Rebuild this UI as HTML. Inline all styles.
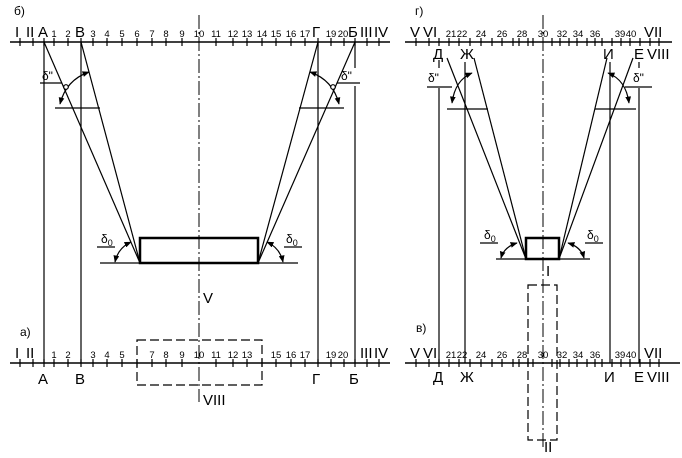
<!DOCTYPE html>
<html><head><meta charset="utf-8"><style>
html,body{margin:0;padding:0;background:#fff}
svg{display:block}
text{font-family:"Liberation Sans","DejaVu Sans",sans-serif;fill:#000}
.b{font-size:15px}.s{font-size:9.5px}.m{font-size:12px}
</style></head><body>
<svg width="682" height="458" viewBox="0 0 682 458" xmlns="http://www.w3.org/2000/svg">
<defs>
<marker id="ar" viewBox="0 0 10 10" refX="9" refY="5" markerWidth="6" markerHeight="6" orient="auto-start-reverse"><path d="M0,1 L10,5 L0,9 z" fill="#000"/></marker>
</defs>
<g stroke="#000" stroke-width="1.2" fill="none">
<line x1="10" y1="42" x2="390" y2="42" stroke-width="1.5"/>
<line x1="10" y1="363" x2="390" y2="363" stroke-width="1.5"/>
<line x1="405" y1="42" x2="672" y2="42" stroke-width="1.5"/>
<line x1="405" y1="363" x2="680" y2="363" stroke-width="1.5"/>
</g>
<g stroke="#000" stroke-width="1.2">
<path d="M20 38v8M33 38v8M44 38v8M54 38v8M68 38v8M81 38v8M93 38v8M107 38v8M122 38v8M137 38v8M152 38v8M166 38v8M182 38v8M216 38v8M233 38v8M247 38v8M262 38v8M276 38v8M291 38v8M305 38v8M318 38v8M331 38v8M344 38v8M355 38v8M367 38v8M379 38v8"/>
<path d="M20 359v8M33 359v8M44 359v8M54 359v8M68 359v8M81 359v8M93 359v8M107 359v8M122 359v8M137 359v8M152 359v8M166 359v8M182 359v8M216 359v8M233 359v8M247 359v8M262 359v8M276 359v8M291 359v8M305 359v8M318 359v8M331 359v8M344 359v8M355 359v8M367 359v8M379 359v8"/>
<path d="M416 38v8M429 38v8M439 38v8M449 38v8M459 38v8M470 38v8M481 38v8M492 38v8M502 38v8M513 38v8M519 38v8M528 38v8M533 38v8M552 38v8M560 38v8M569 38v8M577 38v8M587 38v8M595 38v8M602 38v8M612 38v8M621 38v8M630 38v8M640 38v8M650 38v8M659 38v8"/>
<path d="M416 359v8M429 359v8M439 359v8M449 359v8M459 359v8M470 359v8M481 359v8M492 359v8M502 359v8M513 359v8M519 359v8M528 359v8M533 359v8M552 359v8M560 359v8M569 359v8M577 359v8M587 359v8M595 359v8M602 359v8M612 359v8M621 359v8M630 359v8M640 359v8M650 359v8M659 359v8"/>
</g>
<g stroke="#000" stroke-width="1" stroke-dasharray="14,3,2,3" fill="none">
<line x1="199" y1="15" x2="199" y2="402"/>
<line x1="543" y1="15" x2="543" y2="450"/>
</g>
<g stroke="#000" stroke-width="1.2" fill="none">
<line x1="44" y1="42" x2="44" y2="363"/>
<line x1="81" y1="42" x2="81" y2="363"/>
<line x1="318" y1="42" x2="318" y2="363"/>
<line x1="355" y1="42" x2="355" y2="68"/>
<line x1="355" y1="86" x2="355" y2="363"/>
<line x1="44" y1="42" x2="140" y2="263"/>
<line x1="81" y1="42" x2="140" y2="263"/>
<line x1="318" y1="42" x2="258" y2="263"/>
<line x1="355" y1="42" x2="258" y2="263"/>
<line x1="55" y1="108" x2="100" y2="108"/>
<line x1="299" y1="108" x2="344" y2="108"/>
<line x1="40" y1="83" x2="62" y2="83"/>
<line x1="337" y1="83" x2="360" y2="83"/>
<path d="M89 72 Q66 80 60 104" marker-start="url(#ar)" marker-end="url(#ar)"/>
<path d="M310 72 Q333 80 339 104" marker-start="url(#ar)" marker-end="url(#ar)"/>
<circle cx="66" cy="87" r="2.3" fill="#fff"/>
<circle cx="333" cy="87" r="2.3" fill="#fff"/>
<rect x="140" y="238" width="118" height="25" stroke-width="2.5"/>
<line x1="100" y1="263" x2="298" y2="263"/>
<line x1="97" y1="247" x2="115" y2="247"/>
<line x1="284" y1="247" x2="302" y2="247"/>
<path d="M131 242 Q118 248 115 262" marker-start="url(#ar)" marker-end="url(#ar)"/>
<path d="M267 242 Q280 248 283 262" marker-start="url(#ar)" marker-end="url(#ar)"/>
<rect x="137" y="340" width="125" height="45" stroke-dasharray="9,4"/>
<line x1="439" y1="60" x2="439" y2="68"/>
<line x1="439" y1="88" x2="439" y2="363"/>
<line x1="465" y1="62" x2="465" y2="363"/>
<line x1="610" y1="62" x2="610" y2="363"/>
<line x1="639" y1="62" x2="639" y2="68"/>
<line x1="639" y1="88" x2="639" y2="363"/>
<line x1="447" y1="58" x2="526" y2="259"/>
<line x1="474" y1="58" x2="526" y2="259"/>
<line x1="607" y1="58" x2="559" y2="259"/>
<line x1="633" y1="58" x2="559" y2="259"/>
<line x1="447" y1="109" x2="488" y2="109"/>
<line x1="595" y1="109" x2="636" y2="109"/>
<line x1="427" y1="87" x2="452" y2="87"/>
<line x1="625" y1="87" x2="652" y2="87"/>
<path d="M472 73 Q455 80 452 103" marker-start="url(#ar)" marker-end="url(#ar)"/>
<path d="M608 73 Q626 80 629 103" marker-start="url(#ar)" marker-end="url(#ar)"/>
<rect x="526" y="238" width="33" height="21" stroke-width="2.5"/>
<line x1="496" y1="259" x2="590" y2="259"/>
<line x1="480" y1="243" x2="498" y2="243"/>
<line x1="585" y1="243" x2="603" y2="243"/>
<path d="M517 243 Q504 247 501 258" marker-start="url(#ar)" marker-end="url(#ar)"/>
<path d="M568 243 Q581 247 584 258" marker-start="url(#ar)" marker-end="url(#ar)"/>
<rect x="528" y="285" width="29" height="155" stroke-dasharray="9,4"/>
</g>
<text class="m" x="14" y="15">б)</text>
<text class="m" x="20" y="336">а)</text>
<g class="b">
<text x="15" y="37">I</text><text x="26" y="37">II</text><text x="38" y="37">A</text>
<text x="75" y="37">B</text><text x="312" y="37">Г</text><text x="348" y="37">Б</text>
<text x="360" y="37">III</text><text x="374" y="37">IV</text>
<text x="15" y="358">I</text><text x="26" y="358">II</text>
<text x="360" y="358">III</text><text x="374" y="358">IV</text>
<text x="38" y="384">A</text><text x="75" y="384">B</text><text x="312" y="384">Г</text><text x="349" y="384">Б</text>
<text x="203" y="303">V</text><text x="203" y="405">VIII</text>
</g>
<g class="s" text-anchor="middle">
<text x="54" y="37">1</text><text x="68" y="37">2</text><text x="93" y="37">3</text><text x="107" y="37">4</text><text x="122" y="37">5</text><text x="137" y="37">6</text><text x="152" y="37">7</text><text x="166" y="37">8</text><text x="182" y="37">9</text><text x="199" y="37">10</text><text x="216" y="37">11</text><text x="233" y="37">12</text><text x="247" y="37">13</text><text x="262" y="37">14</text><text x="276" y="37">15</text><text x="291" y="37">16</text><text x="305" y="37">17</text><text x="331" y="37">19</text><text x="343" y="37">20</text>
<text x="54" y="358">1</text><text x="68" y="358">2</text><text x="93" y="358">3</text><text x="107" y="358">4</text><text x="122" y="358">5</text><text x="152" y="358">7</text><text x="166" y="358">8</text><text x="182" y="358">9</text><text x="199" y="358">10</text><text x="216" y="358">11</text><text x="233" y="358">12</text><text x="247" y="358">13</text><text x="276" y="358">15</text><text x="291" y="358">16</text><text x="305" y="358">17</text><text x="331" y="358">19</text><text x="343" y="358">20</text>
</g>
<text class="m" x="42" y="80">δ"</text>
<text class="m" x="341" y="80">δ"</text>
<text class="m" x="101" y="243">δ<tspan font-size="9" dy="3">0</tspan></text>
<text class="m" x="286" y="243">δ<tspan font-size="9" dy="3">0</tspan></text>
<text class="m" x="415" y="15">г)</text>
<text class="m" x="416" y="332">в)</text>
<g class="b">
<text x="410" y="37">V</text><text x="423" y="37">VI</text><text x="644" y="37">VII</text>
<text x="410" y="358">V</text><text x="423" y="358">VI</text><text x="644" y="358">VII</text>
<text x="433" y="59">Д</text><text x="460" y="59">Ж</text><text x="603" y="59">И</text><text x="634" y="59">Е</text><text x="647" y="59">VIII</text>
<text x="433" y="382">Д</text><text x="460" y="382">Ж</text><text x="604" y="382">И</text><text x="634" y="382">Е</text><text x="647" y="382">VIII</text>
<text x="546" y="276">I</text><text x="544" y="452">II</text>
</g>
<g class="s" text-anchor="middle">
<text x="451" y="37">21</text><text x="462" y="37">22</text><text x="481" y="37">24</text><text x="502" y="37">26</text><text x="522" y="37">28</text><text x="543" y="37">30</text><text x="562" y="37">32</text><text x="578" y="37">34</text><text x="595" y="37">36</text><text x="620" y="37">39</text><text x="631" y="37">40</text>
<text x="451" y="358">21</text><text x="462" y="358">22</text><text x="481" y="358">24</text><text x="502" y="358">26</text><text x="522" y="358">28</text><text x="543" y="358">30</text><text x="562" y="358">32</text><text x="578" y="358">34</text><text x="595" y="358">36</text><text x="620" y="358">39</text><text x="631" y="358">40</text>
</g>
<text class="m" x="428" y="82">δ"</text>
<text class="m" x="633" y="82">δ"</text>
<text class="m" x="484" y="239">δ<tspan font-size="9" dy="3">0</tspan></text>
<text class="m" x="587" y="239">δ<tspan font-size="9" dy="3">0</tspan></text>
</svg>
</body></html>
